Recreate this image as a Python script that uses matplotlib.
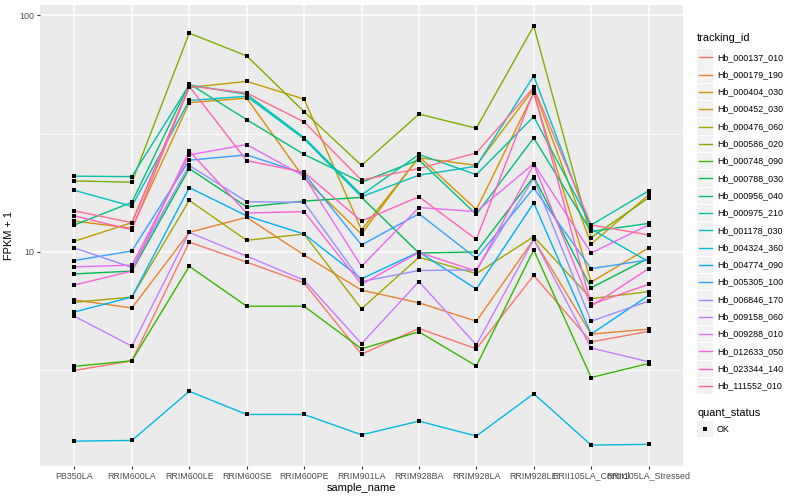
import matplotlib
matplotlib.use("Agg")
import matplotlib.pyplot as plt
from matplotlib.patches import Rectangle
from matplotlib.lines import Line2D
from matplotlib.ticker import FixedLocator, NullFormatter
import numpy as np

plt.rcParams['font.family'] = ['Liberation Sans', 'DejaVu Sans']

samples = ["PB350LA", "RRIM600LA", "RRIM600LE", "RRIM600SE", "RRIM600PE", "RRIM901LA",
           "RRIM928BA", "RRIM928LA", "RRIM928LE", "RRII105LA_Control", "RRII105LA_Stressed"]

tracking_ids = ["Hb_000137_010", "Hb_000179_190", "Hb_000404_030", "Hb_000452_030",
                "Hb_000476_060", "Hb_000586_020", "Hb_000748_090", "Hb_000788_030",
                "Hb_000956_040", "Hb_000975_210", "Hb_001178_030", "Hb_004324_360",
                "Hb_004774_090", "Hb_005305_100", "Hb_006846_170", "Hb_009158_060",
                "Hb_009288_010", "Hb_012633_050", "Hb_023344_140", "Hb_111552_010"]

colors = ["#F8766D", "#EA8331", "#D89000", "#C09B00", "#A3A500", "#7CAE00", "#39B600",
          "#00BB4E", "#00BF7D", "#00C1A3", "#00BFC4", "#00BAE0", "#00B0F6", "#35A2FF",
          "#9590FF", "#C77CFF", "#E76BF3", "#FA62DB", "#FF62BC", "#FF6C91"]

hb_000137_010 = [3.16, 3.47, 11.0, 9.06, 7.4, 3.7, 4.75, 3.9, 7.96, 4.17, 4.62]
hb_000179_190 = [6.27, 5.8, 12.1, 14.0, 9.7, 6.9, 6.1, 5.1, 11.3, 4.5, 4.72]
hb_000404_030 = [13.5, 12.6, 42.7, 44.6, 20.5, 11.9, 25.3, 15.1, 46.9, 7.46, 10.4]
hb_000452_030 = [11.1, 13.3, 49.5, 52.5, 44.2, 12.4, 25.0, 23.2, 48.8, 10.8, 17.4]
hb_000476_060 = [6.13, 6.45, 16.5, 11.2, 11.9, 5.75, 9.5, 8.1, 11.6, 6.35, 6.8]
hb_000586_020 = [19.95, 19.7, 83.9, 67.3, 39.1, 23.2, 38.2, 33.3, 90.0, 11.5, 16.9]
hb_000748_090 = [3.29, 3.47, 8.7, 5.9, 5.9, 3.9, 4.6, 3.3, 10.2, 2.95, 3.38]
hb_000788_030 = [8.08, 8.3, 22.5, 15.5, 16.4, 17.0, 9.9, 10.0, 20.8, 7.06, 9.4]
hb_000956_040 = [13.0, 16.2, 51.3, 36.2, 25.8, 19.7, 24.5, 14.4, 30.3, 12.2, 13.2]
hb_000975_210 = [20.9, 20.8, 50.7, 46.3, 30.4, 17.4, 25.8, 21.2, 37.3, 13.0, 18.1]
hb_001178_030 = [18.2, 15.6, 43.6, 45.4, 30.0, 17.1, 21.1, 23.0, 55.4, 12.5, 9.1]
hb_004324_360 = [1.59, 1.6, 2.58, 2.06, 2.06, 1.69, 1.93, 1.67, 2.52, 1.53, 1.54]
hb_004774_090 = [5.58, 6.45, 18.7, 14.2, 11.9, 7.7, 10.0, 6.97, 16.1, 4.5, 6.55]
hb_005305_100 = [9.2, 10.1, 24.4, 25.7, 21.4, 10.7, 14.5, 9.4, 18.6, 8.5, 9.26]
hb_006846_170 = [10.4, 8.6, 23.2, 16.3, 16.2, 7.5, 8.35, 8.4, 20.5, 5.1, 6.2]
hb_009158_060 = [5.35, 4.0, 12.1, 9.6, 7.6, 4.1, 7.5, 4.05, 11.3, 3.93, 3.44]
hb_009288_010 = [8.65, 8.8, 25.7, 28.4, 20.9, 8.7, 15.4, 14.8, 23.6, 9.9, 13.0]
hb_012633_050 = [7.25, 8.3, 26.7, 14.6, 14.8, 7.3, 9.95, 8.3, 23.4, 5.9, 8.5]
hb_023344_140 = [14.2, 12.4, 50.0, 24.3, 21.7, 13.5, 17.1, 11.3, 47.6, 6.0, 7.3]
hb_111552_010 = [14.9, 13.3, 50.2, 46.9, 35.4, 20.1, 22.5, 26.2, 49.5, 13.0, 11.8]

series = [hb_000137_010, hb_000179_190, hb_000404_030, hb_000452_030, hb_000476_060,
          hb_000586_020, hb_000748_090, hb_000788_030, hb_000956_040, hb_000975_210,
          hb_001178_030, hb_004324_360, hb_004774_090, hb_005305_100, hb_006846_170,
          hb_009158_060, hb_009288_010, hb_012633_050, hb_023344_140, hb_111552_010]

W, H = 800, 500
fig = plt.figure(figsize=(8, 5), dpi=100)
left, right, top, bottom = 40, 683, 5, 466
ax = fig.add_axes([left / W, 1 - bottom / H, (right - left) / W, (bottom - top) / H])
ax.set_facecolor("#EBEBEB")
for s in ax.spines.values():
    s.set_visible(False)

x = np.arange(len(samples))
for vals, col in zip(series, colors):
    ax.plot(x, vals, color=col, lw=1.0, zorder=3, solid_capstyle='butt')
for vals in series:
    ax.plot(x, vals, ls='none', marker='s', ms=2.9, mew=0, color='black', zorder=4)

ax.set_yscale('log')
allv = np.concatenate([np.array(v) for v in series])
lo, hi = np.log10(allv.min()), np.log10(allv.max())
pad = (hi - lo) * 0.05
ax.set_ylim(10 ** (lo - pad), 10 ** (hi + pad))
ax.set_xlim(-0.6, len(samples) - 0.4)

ax.yaxis.set_major_locator(FixedLocator([10, 100]))
ax.set_yticklabels(["10", "100"])
ax.yaxis.set_minor_locator(FixedLocator([10 ** 0.5, 10 ** 1.5]))
ax.yaxis.set_minor_formatter(NullFormatter())
ax.set_xticks(x)
ax.set_xticklabels(samples)

ax.grid(which='major', color='white', lw=1.1, zorder=0)
ax.grid(which='minor', axis='y', color='white', lw=0.55, zorder=0)
ax.set_axisbelow(True)
ax.tick_params(axis='both', which='major', length=2.5, width=0.8, color='#333333',
               labelcolor='#4D4D4D', labelsize=6.4, pad=1.5)
ax.tick_params(axis='y', which='minor', length=0)

ax.set_xlabel("sample_name", fontsize=7.9, color='black', labelpad=2)
ax.set_ylabel("FPKM + 1", fontsize=7.9, color='black', labelpad=4)

def fx(px):
    return px / W

def fy(py):
    return 1 - py / H

fig.text(fx(697), fy(38), "tracking_id", fontsize=7.9, ha='left', va='center')
key0 = 57.3
step = 17.3
for i, (name, col) in enumerate(zip(tracking_ids, colors)):
    yc = key0 + i * step
    fig.patches.append(Rectangle((fx(697), fy(yc + 8.2)), 16.4 / W, 16.4 / H,
                                 transform=fig.transFigure, facecolor='#F2F2F2',
                                 edgecolor='none', zorder=1))
    fig.lines.append(Line2D([fx(698.5), fx(711.5)], [fy(yc), fy(yc)], color=col, lw=1.0,
                            transform=fig.transFigure, zorder=2))
    fig.text(fx(717), fy(yc), name, fontsize=6.4, ha='left', va='center')

fig.text(fx(697), fy(413), "quant_status", fontsize=7.9, ha='left', va='center')
yc = 429
fig.patches.append(Rectangle((fx(697), fy(yc + 8.2)), 16.4 / W, 16.4 / H,
                             transform=fig.transFigure, facecolor='#F2F2F2',
                             edgecolor='none', zorder=1))
fig.lines.append(Line2D([fx(705)], [fy(yc)], marker='s', ms=2.9, mew=0, color='black',
                        ls='none', transform=fig.transFigure, zorder=2))
fig.text(fx(717), fy(yc), "OK", fontsize=6.4, ha='left', va='center')

fig.savefig("out.png", dpi=100)
